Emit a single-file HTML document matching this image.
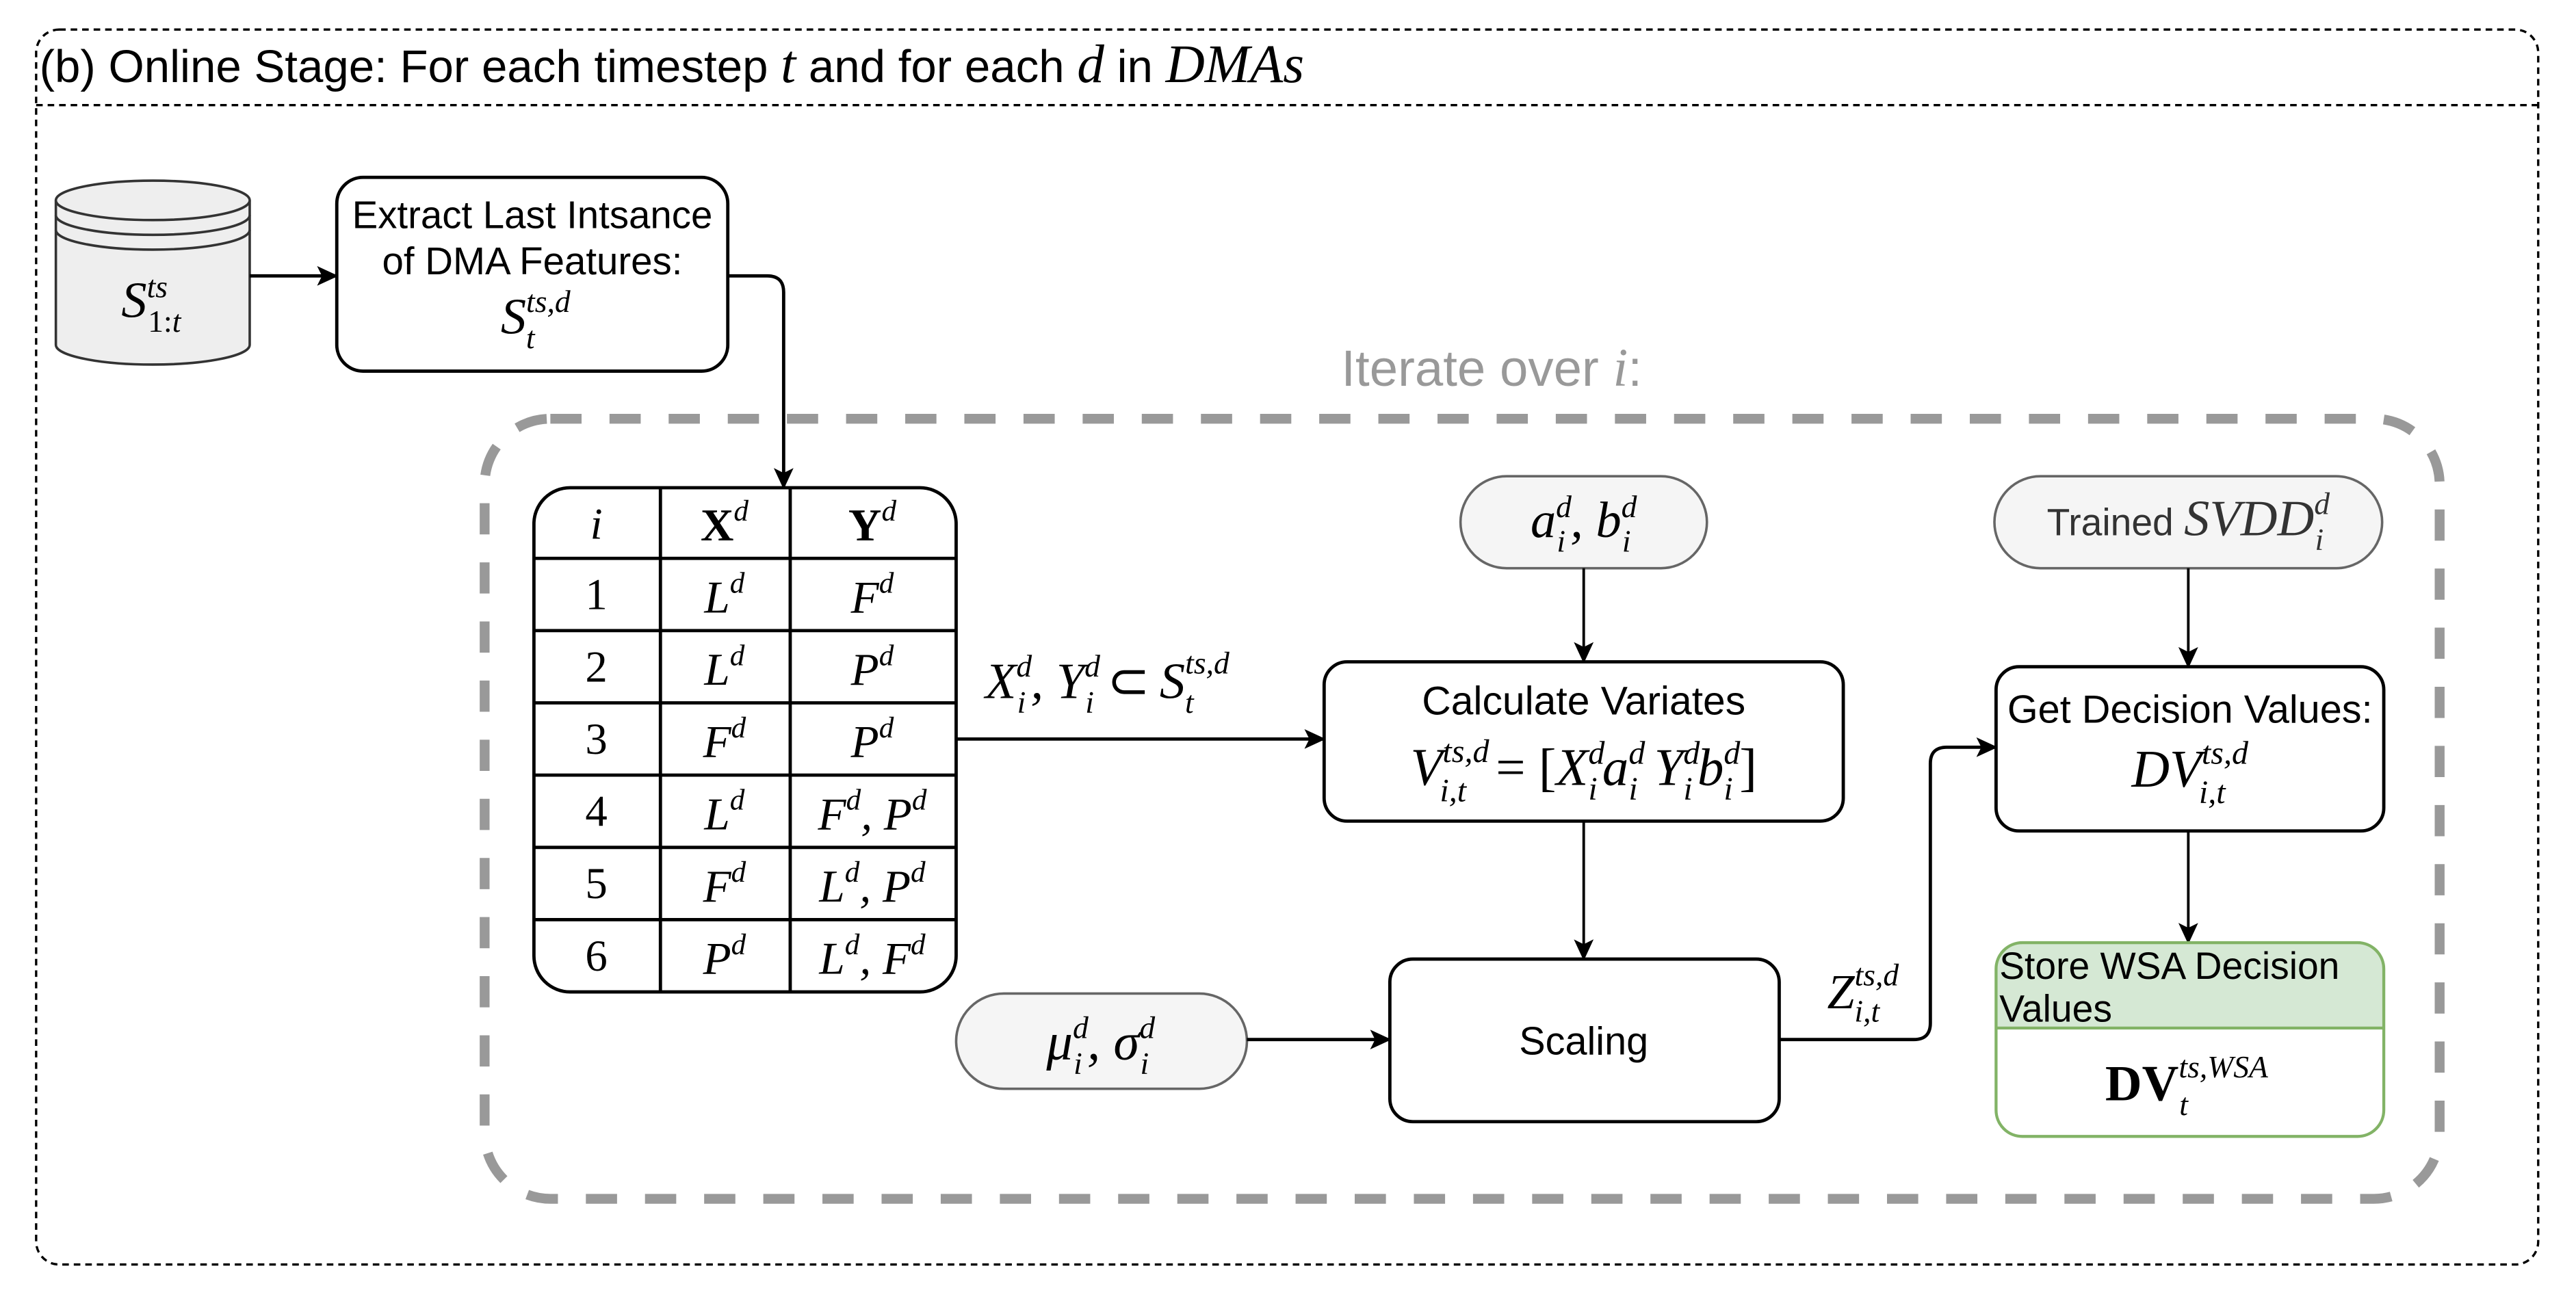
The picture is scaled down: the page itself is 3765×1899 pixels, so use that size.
<!DOCTYPE html>
<html><head><meta charset="utf-8">
<style>
html,body{margin:0;padding:0;background:#fff;}
svg{display:block;}
.s{font-family:"Liberation Sans",sans-serif;}
.m{font-family:"Liberation Serif",serif;font-style:italic;}
.r{font-family:"Liberation Serif",serif;font-style:normal;}
</style></head>
<body>
<svg width="3765" height="1899" viewBox="0 0 1568 791" preserveAspectRatio="none" xmlns="http://www.w3.org/2000/svg">
<defs>
<marker id="ar" markerWidth="14" markerHeight="12" refX="12" refY="6" orient="auto" markerUnits="userSpaceOnUse">
<path d="M0,0 L13,6 L0,12 L3,6 Z" fill="#000"/>
</marker>
</defs>

<rect x="22" y="18" width="1523" height="752" rx="14" fill="none" stroke="#000" stroke-width="1.4" stroke-dasharray="4 3"/>
<line x1="22" y1="64" x2="1545" y2="64" stroke="#000" stroke-width="1.4" stroke-dasharray="4 3"/>
<text x="24" y="50" class="s" font-size="28" fill="#000">(b) Online Stage: For each timestep <tspan class="m" font-size="33">t</tspan> and for each <tspan class="m" font-size="33">d</tspan> in <tspan class="m" font-size="33">DMAs</tspan></text>

<!-- cylinder -->
<path d="M34,122 V210 A59,12 0 0 0 152,210 V122" fill="#eee" stroke="#333" stroke-width="1.5"/>
<ellipse cx="93" cy="122" rx="59" ry="12" fill="#eee" stroke="#333" stroke-width="1.5"/>
<path d="M34,131 A59,12 0 0 0 152,131 M34,140 A59,12 0 0 0 152,140" fill="none" stroke="#333" stroke-width="1.5"/>
<text x="92" y="193" class="m" font-size="31" text-anchor="middle">S<tspan font-size="19" dy="-12">ts</tspan><tspan font-size="19" class="r" dx="-12" dy="21">1:</tspan><tspan font-size="19">t</tspan></text>

<line x1="152" y1="168" x2="205" y2="168" stroke="#000" stroke-width="2" marker-end="url(#ar)"/>

<rect x="205" y="108" width="238" height="118" rx="16" fill="#fff" stroke="#000" stroke-width="2"/>
<text x="324" y="139" class="s" font-size="23.5" text-anchor="middle">Extract Last Intsance</text>
<text x="324" y="167" class="s" font-size="23.5" text-anchor="middle">of DMA Features:</text>
<text x="326" y="203" class="m" font-size="31" text-anchor="middle">S<tspan font-size="19" dy="-13">ts,d</tspan><tspan font-size="19" dx="-27" dy="22">t</tspan><tspan font-size="19" dx="18"> </tspan></text>

<path d="M443,168 H467 Q477,168 477,178 V297" fill="none" stroke="#000" stroke-width="2" marker-end="url(#ar)"/>

<text x="908" y="235" class="s" font-size="31" fill="#999" text-anchor="middle">Iterate over <tspan class="m" font-size="33">i</tspan>:</text>
<rect x="295" y="255" width="1190" height="475" rx="40" fill="none" stroke="#999" stroke-width="6" stroke-dasharray="19 17"/>

<!-- table -->
<rect x="325" y="297" width="257" height="307" rx="22" fill="#fff" stroke="#000" stroke-width="2"/>
<g stroke="#000" stroke-width="2">
<line x1="402" y1="297" x2="402" y2="604"/>
<line x1="481" y1="297" x2="481" y2="604"/>
<line x1="325" y1="340" x2="582" y2="340"/>
<line x1="325" y1="384" x2="582" y2="384"/>
<line x1="325" y1="428" x2="582" y2="428"/>
<line x1="325" y1="472" x2="582" y2="472"/>
<line x1="325" y1="516" x2="582" y2="516"/>
<line x1="325" y1="560" x2="582" y2="560"/>
</g>
<g font-size="27" text-anchor="middle">
<text x="363" y="328" class="m">i</text>
<text x="441" y="329" class="r" font-weight="bold" font-size="28">X<tspan class="m" font-weight="normal" font-size="18" dy="-12">d</tspan></text>
<text x="531" y="329" class="r" font-weight="bold" font-size="28">Y<tspan class="m" font-weight="normal" font-size="18" dy="-12">d</tspan></text>
<text x="363" y="371" class="r">1</text>
<text x="363" y="415" class="r">2</text>
<text x="363" y="459" class="r">3</text>
<text x="363" y="503" class="r">4</text>
<text x="363" y="547" class="r">5</text>
<text x="363" y="591" class="r">6</text>
</g>
<g class="m" font-size="28" text-anchor="middle">
<text x="441" y="373">L<tspan font-size="18" dy="-12">d</tspan></text>
<text x="441" y="417">L<tspan font-size="18" dy="-12">d</tspan></text>
<text x="441" y="461">F<tspan font-size="18" dy="-12">d</tspan></text>
<text x="441" y="505">L<tspan font-size="18" dy="-12">d</tspan></text>
<text x="441" y="549">F<tspan font-size="18" dy="-12">d</tspan></text>
<text x="441" y="593">P<tspan font-size="18" dy="-12">d</tspan></text>
<text x="531" y="373">F<tspan font-size="18" dy="-12">d</tspan></text>
<text x="531" y="417">P<tspan font-size="18" dy="-12">d</tspan></text>
<text x="531" y="461">P<tspan font-size="18" dy="-12">d</tspan></text>
<text x="531" y="505">F<tspan font-size="18" dy="-12">d</tspan><tspan dy="12">, P</tspan><tspan font-size="18" dy="-12">d</tspan></text>
<text x="531" y="549">L<tspan font-size="18" dy="-12">d</tspan><tspan dy="12">, P</tspan><tspan font-size="18" dy="-12">d</tspan></text>
<text x="531" y="593">L<tspan font-size="18" dy="-12">d</tspan><tspan dy="12">, F</tspan><tspan font-size="18" dy="-12">d</tspan></text>
</g>

<line x1="582" y1="450" x2="806" y2="450" stroke="#000" stroke-width="2" marker-end="url(#ar)"/>
<text x="674" y="425" class="m" font-size="31" text-anchor="middle">X<tspan font-size="19" dy="-13">d</tspan><tspan font-size="19" dx="-9" dy="22">i</tspan><tspan dx="3" dy="-9">, Y</tspan><tspan font-size="19" dy="-13">d</tspan><tspan font-size="19" dx="-9" dy="22">i</tspan><tspan class="r" dx="8" dy="-9">⊂</tspan><tspan dx="6">S</tspan><tspan font-size="19" dy="-15">ts,d</tspan><tspan font-size="19" dx="-27" dy="24">t</tspan><tspan font-size="19" dx="18" dy="-9"> </tspan></text>

<rect x="889" y="290" width="150" height="56" rx="28" fill="#f5f5f5" stroke="#666" stroke-width="1.5"/>
<text x="964" y="327" class="m" font-size="31" text-anchor="middle">a<tspan font-size="19" dy="-12">d</tspan><tspan font-size="19" dx="-9" dy="21">i</tspan><tspan dx="3" dy="-9">, b</tspan><tspan font-size="19" dy="-12">d</tspan><tspan font-size="19" dx="-9" dy="21">i</tspan><tspan font-size="19" dx="4" dy="-9"> </tspan></text>
<line x1="964" y1="346" x2="964" y2="403" stroke="#000" stroke-width="1.6" marker-end="url(#ar)"/>

<rect x="806" y="403" width="316" height="97" rx="14" fill="#fff" stroke="#000" stroke-width="2"/>
<text x="964" y="435" class="s" font-size="24.5" text-anchor="middle">Calculate Variates</text>
<text x="964" y="478" class="m" font-size="32" text-anchor="middle">V<tspan font-size="20" dy="-14">ts,d</tspan><tspan font-size="20" dx="-30" dy="24">i,t</tspan><tspan class="r" dx="18" dy="-10">= [</tspan><tspan>X</tspan><tspan font-size="20" dy="-13">d</tspan><tspan font-size="20" dx="-10" dy="22">i</tspan><tspan dx="3" dy="-9">a</tspan><tspan font-size="20" dy="-13">d</tspan><tspan font-size="20" dx="-10" dy="22">i</tspan><tspan dx="10" dy="-9">Y</tspan><tspan font-size="20" dy="-13">d</tspan><tspan font-size="20" dx="-10" dy="22">i</tspan><tspan dx="3" dy="-9">b</tspan><tspan font-size="20" dy="-13">d</tspan><tspan font-size="20" dx="-10" dy="22">i</tspan><tspan class="r" dx="4" dy="-9">]</tspan></text>
<line x1="964" y1="500" x2="964" y2="584" stroke="#000" stroke-width="1.6" marker-end="url(#ar)"/>

<rect x="846" y="584" width="237" height="99" rx="14" fill="#fff" stroke="#000" stroke-width="2"/>
<text x="964" y="642" class="s" font-size="24" text-anchor="middle">Scaling</text>

<rect x="582" y="605" width="177" height="58" rx="29" fill="#f5f5f5" stroke="#666" stroke-width="1.5"/>
<text x="670" y="645" class="m" font-size="32" text-anchor="middle">μ<tspan font-size="19" dy="-13">d</tspan><tspan font-size="19" dx="-9" dy="22">i</tspan><tspan dx="3" dy="-9">, σ</tspan><tspan font-size="19" dy="-13">d</tspan><tspan font-size="19" dx="-9" dy="22">i</tspan><tspan font-size="19" dx="4" dy="-9"> </tspan></text>
<line x1="759" y1="633" x2="846" y2="633" stroke="#000" stroke-width="2" marker-end="url(#ar)"/>

<path d="M1083,633 H1165 Q1175,633 1175,623 V465 Q1175,455 1185,455 H1215" fill="none" stroke="#000" stroke-width="2" marker-end="url(#ar)"/>
<text x="1134" y="614" class="m" font-size="30" text-anchor="middle">Z<tspan font-size="19" dy="-14">ts,d</tspan><tspan font-size="19" dx="-27" dy="22">i,t</tspan><tspan font-size="19" dx="12"> </tspan></text>

<rect x="1214" y="290" width="236" height="56" rx="28" fill="#f5f5f5" stroke="#666" stroke-width="1.5"/>
<text x="1332" y="326" class="s" font-size="23" fill="#333" text-anchor="middle">Trained <tspan class="m" font-size="31">SVDD</tspan><tspan class="m" font-size="19" dy="-13">d</tspan><tspan class="m" font-size="19" dx="-9" dy="22">i</tspan><tspan font-size="19" dx="4" dy="-9"> </tspan></text>
<line x1="1332" y1="346" x2="1332" y2="406" stroke="#000" stroke-width="1.6" marker-end="url(#ar)"/>

<rect x="1215" y="406" width="236" height="100" rx="14" fill="#fff" stroke="#000" stroke-width="2"/>
<text x="1333" y="440" class="s" font-size="24" text-anchor="middle">Get Decision Values:</text>
<text x="1333" y="479" class="m" font-size="32" text-anchor="middle">DV<tspan font-size="20" dy="-14">ts,d</tspan><tspan font-size="20" dx="-30" dy="24">i,t</tspan><tspan font-size="20" dx="14" dy="-10"> </tspan></text>
<line x1="1332" y1="506" x2="1332" y2="574" stroke="#000" stroke-width="1.6" marker-end="url(#ar)"/>

<path d="M1231,574 H1435 Q1451,574 1451,590 V626 H1215 V590 Q1215,574 1231,574 Z" fill="#d5e8d4"/>
<rect x="1215" y="574" width="236" height="118" rx="16" fill="none" stroke="#82b366" stroke-width="1.8"/>
<line x1="1215" y1="626" x2="1451" y2="626" stroke="#82b366" stroke-width="1.8"/>
<text x="1217" y="596" class="s" font-size="23">Store WSA Decision</text>
<text x="1217" y="622" class="s" font-size="23">Values</text>
<text x="1331" y="670" class="r" font-weight="bold" font-size="31" text-anchor="middle">DV<tspan class="m" font-weight="normal" font-size="19" dy="-14">ts,WSA</tspan><tspan class="m" font-weight="normal" font-size="19" dx="-54" dy="23">t</tspan><tspan font-size="19" dx="45" dy="-9"> </tspan></text>
</svg>
</body></html>
